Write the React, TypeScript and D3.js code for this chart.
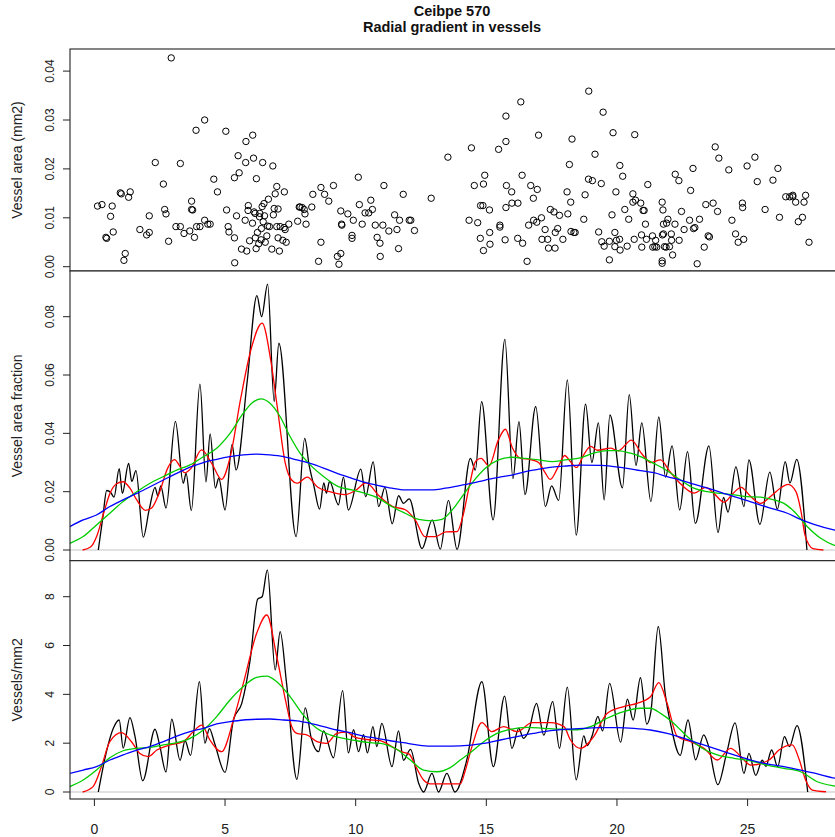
import React from "react";
import * as d3 from "d3";

const titleLines = ["Ceibpe 570", "Radial gradient in vessels"];
const yTitles = ["Vessel area (mm2)", "Vessel area fraction", "Vessels/mm2"];
const xTicks = [0, 5, 10, 15, 20, 25];
const topTicks = [0, 0.01, 0.02, 0.03, 0.04];
const midTicks = [0, 0.02, 0.04, 0.06, 0.08];
const botTicks = [0, 2, 4, 6, 8];

// Vessel areas (position, mm2)
const vesselArea: [number, number][] = [
[0.12,0.0124],[0.29,0.0127],[0.68,0.0124],[0.62,0.0103],[0.44,0.0060],[0.47,0.0058],[0.72,0.0071],[0.99,0.0151],[1.03,0.0149],[1.31,0.0142],[1.37,0.0153],[1.13,0.0013],[1.18,0.0027],[1.74,0.0076],[2.00,0.0065],[2.10,0.0070],[2.10,0.0104],[2.33,0.0213],[2.64,0.0169],[2.69,0.0117],[2.74,0.0108],[2.84,0.0052],[2.94,0.0427],[3.12,0.0082],[3.29,0.0082],[3.29,0.0211],[3.43,0.0068],[3.65,0.0073],[3.72,0.0134],[3.72,0.0117],[3.76,0.0116],[3.83,0.0060],[3.91,0.0082],[4.04,0.0082],[3.89,0.0279],[4.22,0.0300],[4.22,0.0095],[4.34,0.0087],[4.43,0.0087],[4.57,0.0179],[4.71,0.0153],[5.03,0.0277],[5.06,0.0116],[5.12,0.0082],[5.15,0.0071],[5.36,0.0059],[5.37,0.0008],[5.44,0.0104],[5.50,0.0227],[5.54,0.0192],[5.36,0.0182],[5.80,0.0256],[6.06,0.0269],[5.79,0.0213],[6.09,0.0222],[6.44,0.0213],[6.83,0.0206],[6.20,0.0180],[5.63,0.0036],[5.83,0.0032],[5.77,0.0095],[5.89,0.0125],[5.88,0.0115],[6.05,0.0089],[5.94,0.0053],[6.11,0.0112],[6.15,0.0109],[6.16,0.0059],[6.19,0.0037],[6.24,0.0070],[6.29,0.0047],[6.32,0.0102],[6.33,0.0109],[6.38,0.0055],[6.39,0.0078],[6.42,0.0123],[6.46,0.0092],[6.49,0.0129],[6.51,0.0104],[6.54,0.0050],[6.60,0.0063],[6.63,0.0083],[6.66,0.0138],[6.70,0.0082],[6.79,0.0036],[6.85,0.0106],[6.88,0.0119],[6.92,0.0149],[6.98,0.0164],[7.03,0.0118],[6.98,0.0082],[7.08,0.0032],[7.03,0.0059],[7.11,0.0082],[7.21,0.0054],[7.26,0.0080],[7.27,0.0153],[7.30,0.0076],[7.34,0.0050],[7.44,0.0087],[7.78,0.0093],[7.84,0.0122],[7.87,0.0122],[7.95,0.0121],[8.03,0.0117],[8.06,0.0108],[8.10,0.0087],[8.32,0.0122],[8.36,0.0148],[8.58,0.0011],[8.67,0.0162],[8.67,0.0050],[8.81,0.0148],[8.97,0.0134],[9.15,0.0166],[9.30,0.0021],[9.36,0.0005],[9.43,0.0027],[9.43,0.0114],[9.46,0.0087],[9.47,0.0085],[9.70,0.0108],[9.86,0.0064],[9.86,0.0058],[9.91,0.0095],[10.10,0.0183],[10.14,0.0127],[10.25,0.0087],[10.36,0.0110],[10.50,0.0110],[10.58,0.0136],[10.64,0.0117],[10.75,0.0085],[10.82,0.0060],[10.93,0.0048],[10.94,0.0021],[11.04,0.0085],[11.08,0.0166],[11.27,0.0073],[11.49,0.0106],[11.58,0.0076],[11.64,0.0037],[11.68,0.0095],[11.82,0.0148],[12.05,0.0095],[12.11,0.0095],[12.25,0.0074],
[12.89,0.0140],[13.53,0.0224],[14.34,0.0095],[14.43,0.0243],[14.67,0.0090],[14.78,0.0125],[14.87,0.0125],[14.77,0.0058],[14.89,0.0033],[15.12,0.0116],[15.13,0.0070],[15.14,0.0046],[14.54,0.0166],[14.89,0.0169],[14.94,0.0187],[15.47,0.0240],[15.75,0.0308],[15.75,0.0256],[15.52,0.0085],[15.52,0.0081],[15.72,0.0055],[15.77,0.0166],[15.75,0.0121],[15.97,0.0153],[15.98,0.0130],[16.21,0.0130],[16.20,0.0058],[16.32,0.0337],[16.37,0.0187],[16.39,0.0048],[16.56,0.0011],[16.62,0.0085],[16.70,0.0166],[16.80,0.0140],[16.81,0.0095],[16.93,0.0091],[16.95,0.0158],[17.00,0.0269],[17.11,0.0100],[17.13,0.0056],[17.25,0.0076],[17.35,0.0056],[17.38,0.0038],[17.45,0.0117],[17.59,0.0112],[17.63,0.0038],[17.64,0.0070],[17.73,0.0078],[17.80,0.0105],[17.93,0.0056],[18.09,0.0153],[18.12,0.0108],[18.18,0.0209],[18.23,0.0132],[18.24,0.0072],[18.28,0.0261],[18.35,0.0070],[18.40,0.0070],[18.73,0.0097],[18.78,0.0147],[18.91,0.0179],[18.92,0.0359],[19.06,0.0176],[19.16,0.0230],[19.30,0.0071],[19.40,0.0170],[19.42,0.0051],[19.47,0.0316],[19.51,0.0042],[19.71,0.0052],[19.71,0.0014],[19.81,0.0106],[19.85,0.0274],[19.92,0.0070],[19.92,0.0041],[19.96,0.0153],[19.98,0.0054],[20.10,0.0056],[20.11,0.0207],[20.12,0.0034],[20.22,0.0185],[20.30,0.0117],[20.39,0.0042],[20.45,0.0097],[20.61,0.0149],[20.61,0.0132],[20.66,0.0056],[20.68,0.0270],[20.71,0.0136],[20.91,0.0130],[20.94,0.0065],[20.95,0.0040],[21.00,0.0115],[21.04,0.0115],[21.09,0.0087],[21.13,0.0056],[21.18,0.0168],[21.36,0.0063],[21.37,0.0040],[21.45,0.0041],[21.48,0.0054],[21.52,0.0040],[21.73,0.0132],[21.73,0.0012],[21.73,0.0007],[21.74,0.0065],[21.76,0.0116],[21.78,0.0067],[21.78,0.0087],[21.82,0.0041],[21.88,0.0040],[21.90,0.0089],[21.95,0.0097],[22.01,0.0041],[22.08,0.0067],[22.09,0.0054],[22.13,0.0024],[22.23,0.0189],[22.22,0.0087],[22.37,0.0176],[22.38,0.0054],[22.47,0.0113],[22.57,0.0076],[22.78,0.0095],[22.82,0.0156],[22.91,0.0201],[22.93,0.0078],[22.98,0.0080],[23.07,0.0006],[23.16,0.0097],[23.34,0.0040],[23.40,0.0127],[23.49,0.0063],[23.54,0.0061],[23.68,0.0130],[23.76,0.0245],[23.85,0.0113],[23.90,0.0222],[24.28,0.0198],[24.40,0.0095],[24.54,0.0067],[24.64,0.0050],[24.80,0.0130],[24.81,0.0121],[24.85,0.0056],[24.98,0.0206],[25.28,0.0224],[25.37,0.0174],[25.67,0.0117],[25.97,0.0177],[26.16,0.0201],[26.22,0.0101],[26.46,0.0143],[26.61,0.0143],[26.73,0.0146],[26.73,0.0143],[26.84,0.0132],[26.94,0.0092],[27.10,0.0101],[27.16,0.0132],[27.22,0.0146],[27.35,0.0050]
];

// Vessel area fraction
const fracRaw: [number, number][] = [
[0.15,0],[0.32,0.011],[0.47,0.0204],[0.62,0.0198],[0.75,0.0181],[0.95,0.0279],[1.07,0.0194],[1.31,0.0297],[1.43,0.0235],[1.59,0.0272],[1.87,0.0044],[2.10,0.014],[2.32,0.0215],[2.43,0.0185],[2.54,0.022],[2.74,0.0144],[3.10,0.0441],[3.40,0.0229],[3.51,0.0263],[3.71,0.0135],[4.04,0.0569],[4.27,0.0234],[4.43,0.0398],[4.63,0.0212],[4.76,0.0246],[5.00,0.0137],[5.27,0.0362],[5.42,0.0274],[5.85,0.058],[6.22,0.0872],[6.40,0.080],[6.63,0.0912],[6.88,0.0509],[7.06,0.0709],[7.72,0.0046],[8.05,0.0383],[8.22,0.029],[8.40,0.022],[8.62,0.0140],[8.78,0.0230],[8.88,0.0195],[9.00,0.0235],[9.34,0.0155],[9.53,0.0250],[9.72,0.0137],[10.20,0.0277],[10.38,0.0183],[10.67,0.0302],[10.88,0.0149],[11.12,0.0215],[11.40,0.0090],[11.64,0.0186],[11.83,0.0160],[12.05,0.0175],[12.54,0.0005],[12.93,0.0103],[13.24,0.0003],[13.55,0.0170],[13.88,0.0002],[14.39,0.0314],[14.58,0.0274],[14.82,0.0509],[15.26,0.0103],[15.71,0.0722],[16.02,0.0245],[16.25,0.0440],[16.48,0.0190],[16.89,0.0492],[17.26,0.0149],[17.50,0.022],[17.77,0.0170],[18.10,0.0583],[18.44,0.0051],[18.80,0.0500],[19.04,0.0300],[19.29,0.0436],[19.51,0.0172],[19.73,0.0463],[20.21,0.0213],[20.47,0.0533],[20.73,0.0290],[20.95,0.0436],[21.30,0.0166],[21.60,0.0456],[21.86,0.0250],[22.11,0.0357],[22.40,0.0137],[22.70,0.0337],[23.00,0.0091],[23.52,0.0357],[23.87,0.0060],[24.08,0.018],[24.25,0.013],[24.55,0.0285],[24.86,0.0149],[25.05,0.0309],[25.47,0.0088],[25.85,0.0267],[26.14,0.0140],[26.44,0.0303],[26.62,0.0230],[26.88,0.0311],[27.27,0]
];
const fracRed: [number, number][] = [
[-0.45,0.0000],[-0.15,0.0010],[0.10,0.0050],[0.35,0.0125],[0.60,0.0195],[0.85,0.0227],[1.10,0.0234],[1.36,0.0212],[1.62,0.0172],[1.95,0.0136],[2.20,0.0145],[2.50,0.0200],[2.80,0.0280],[3.07,0.0310],[3.25,0.0290],[3.45,0.0265],[3.70,0.0280],[4.10,0.0343],[4.50,0.0295],[4.87,0.0242],[5.20,0.0320],[5.60,0.0520],[6.00,0.0690],[6.42,0.0778],[6.75,0.0650],[7.00,0.0490],[7.30,0.0300],[7.55,0.0240],[7.75,0.0229],[8.15,0.0250],[8.55,0.0215],[9.00,0.0200],[9.60,0.0190],[10.00,0.0205],[10.40,0.0230],[10.90,0.0185],[11.40,0.0150],[11.90,0.0138],[12.30,0.0100],[12.65,0.0046],[13.05,0.0046],[13.45,0.0062],[13.88,0.0063],[14.13,0.0126],[14.35,0.0220],[14.60,0.0305],[14.80,0.0314],[15.10,0.0288],[15.45,0.0375],[15.73,0.0414],[16.00,0.0350],[16.30,0.0315],[16.70,0.0310],[17.00,0.0300],[17.25,0.0265],[17.45,0.0242],[17.75,0.0285],[18.00,0.0324],[18.20,0.0305],[18.45,0.0283],[18.75,0.0330],[19.00,0.0355],[19.25,0.0342],[19.75,0.0349],[20.05,0.0340],[20.55,0.0377],[20.95,0.0330],[21.30,0.0300],[21.67,0.0309],[22.00,0.0272],[22.40,0.0230],[22.95,0.0195],[23.40,0.0215],[23.70,0.0195],[24.10,0.0164],[24.45,0.0195],[24.75,0.0215],[25.10,0.0185],[25.50,0.0160],[25.90,0.0185],[26.30,0.0215],[26.55,0.0225],[26.85,0.0200],[27.05,0.0130],[27.20,0.0050],[27.50,0.0005],[27.90,0.0000]
];
const fracGreen: [number, number][] = [
[-0.94,0.0023],[-0.43,0.0046],[0.08,0.0086],[0.59,0.0126],[1.10,0.0166],[1.62,0.0200],[2.13,0.0229],[2.64,0.0252],[3.15,0.0274],[3.66,0.0292],[4.17,0.0320],[4.68,0.0349],[5.19,0.0400],[5.70,0.0469],[6.02,0.0503],[6.38,0.0518],[6.72,0.0503],[7.11,0.0457],[7.49,0.0389],[7.87,0.0332],[8.26,0.0292],[8.77,0.0252],[9.34,0.0217],[9.85,0.0206],[10.36,0.0194],[10.88,0.0177],[11.38,0.0149],[11.89,0.0126],[12.41,0.0105],[12.92,0.0100],[13.30,0.0105],[13.69,0.0137],[14.07,0.0183],[14.45,0.0229],[14.96,0.0280],[15.47,0.0309],[15.98,0.0318],[16.50,0.0314],[17.00,0.0309],[17.52,0.0303],[18.03,0.0309],[18.60,0.0316],[19.11,0.0332],[19.62,0.0341],[20.00,0.0341],[20.52,0.0332],[20.90,0.0320],[21.41,0.0297],[21.92,0.0272],[22.43,0.0240],[22.94,0.0212],[23.46,0.0200],[23.97,0.0194],[24.48,0.0189],[24.99,0.0183],[25.50,0.0181],[26.01,0.0172],[26.39,0.0160],[26.78,0.0132],[27.29,0.0080],[27.80,0.0040],[28.30,0.0017],[28.90,0.0008]
];
const fracBlue: [number, number][] = [
[-0.94,0.0080],[-0.43,0.0103],[0.08,0.0120],[0.59,0.0149],[1.10,0.0172],[1.62,0.0194],[2.13,0.0217],[2.64,0.0240],[3.15,0.0263],[3.66,0.0284],[4.17,0.0300],[4.68,0.0311],[5.19,0.0320],[5.70,0.0326],[6.21,0.0329],[6.72,0.0326],[7.24,0.0320],[7.75,0.0309],[8.26,0.0297],[8.80,0.0280],[9.34,0.0261],[9.85,0.0246],[10.36,0.0232],[10.88,0.0221],[11.38,0.0212],[11.89,0.0206],[12.41,0.0206],[12.92,0.0206],[13.43,0.0212],[13.94,0.0220],[14.45,0.0229],[14.96,0.0240],[15.47,0.0249],[15.98,0.0257],[16.50,0.0269],[17.00,0.0277],[17.52,0.0284],[18.03,0.0288],[18.60,0.0291],[19.37,0.0290],[19.88,0.0286],[20.39,0.0280],[20.90,0.0272],[21.41,0.0265],[21.92,0.0252],[22.43,0.0240],[22.94,0.0226],[23.46,0.0212],[23.97,0.0198],[24.48,0.0183],[24.99,0.0169],[25.50,0.0154],[26.01,0.0140],[26.52,0.0126],[27.03,0.0105],[27.54,0.0088],[28.30,0.0069],[28.90,0.0058]
];

// Vessels per mm2
const densRaw: [number, number][] = [
[0.15,0.0],[0.45,1.6],[0.72,2.6],[0.95,2.95],[1.10,1.8],[1.36,3.05],[1.55,2.3],[1.85,0.46],[2.32,2.57],[2.50,1.9],[2.74,0.82],[2.96,2.98],[3.28,1.3],[3.47,2.1],[3.68,1.5],[4.02,4.52],[4.23,2.0],[4.40,2.6],[4.60,2.0],[5.00,0.8],[5.32,2.95],[5.64,3.63],[5.96,5.4],[6.25,7.9],[6.42,8.0],[6.62,9.1],[6.92,5.0],[7.11,6.57],[7.35,4.5],[7.75,0.52],[8.07,3.45],[8.30,2.2],[8.58,1.65],[8.77,2.5],[9.15,1.4],[9.50,4.15],[9.72,1.6],[9.92,2.55],[10.11,1.65],[10.30,2.35],[10.45,1.6],[10.66,2.68],[10.81,1.86],[11.00,2.81],[11.39,1.04],[11.64,2.5],[11.83,1.3],[12.10,1.75],[12.41,0.36],[12.60,0.0],[12.92,0.76],[13.17,0.0],[13.49,0.76],[13.80,0.0],[14.25,1.3],[14.83,4.52],[15.27,1.04],[15.70,3.93],[15.98,1.79],[16.24,2.61],[16.42,2.2],[16.62,2.5],[16.92,3.63],[17.20,2.33],[17.54,3.70],[17.80,1.79],[18.10,4.3],[18.44,0.5],[18.73,2.3],[18.86,1.9],[19.05,2.3],[19.27,3.1],[19.45,2.5],[19.72,4.45],[20.14,2.04],[20.40,3.8],[20.62,2.95],[20.90,4.68],[21.14,2.78],[21.30,3.3],[21.58,6.78],[21.85,4.0],[22.05,2.8],[22.42,1.5],[22.72,2.95],[23.01,1.32],[23.32,2.34],[23.50,1.9],[23.86,0.3],[24.20,1.6],[24.52,2.83],[24.86,0.76],[25.05,1.58],[25.31,0.68],[25.56,1.3],[25.70,1.05],[25.92,1.72],[26.15,1.04],[26.41,2.27],[26.60,1.86],[26.89,2.72],[27.30,0.0]
];
const densRed: [number, number][] = [
[-0.45,0.00],[-0.05,0.22],[0.27,1.04],[0.59,2.06],[1.04,2.43],[1.42,2.06],[1.74,1.58],[2.06,1.45],[2.39,1.72],[2.89,1.93],[3.40,2.06],[3.78,2.47],[4.11,2.74],[4.42,2.13],[4.87,1.65],[5.32,2.95],[5.70,4.45],[6.21,6.5],[6.60,7.25],[6.98,5.54],[7.34,3.63],[7.55,2.68],[7.75,2.40],[8.13,2.34],[8.52,2.06],[8.88,1.99],[9.28,2.40],[9.66,2.45],[9.92,2.27],[10.43,2.15],[10.94,2.10],[11.38,1.86],[11.75,1.65],[12.05,1.55],[12.30,1.04],[12.60,0.49],[12.85,0.33],[13.37,0.33],[13.75,0.33],[14.00,0.33],[14.20,0.9],[14.45,1.86],[14.83,2.84],[15.21,2.47],[15.66,2.68],[16.17,2.47],[16.75,2.84],[17.46,2.84],[17.97,2.68],[18.22,2.13],[18.60,1.79],[19.11,2.27],[19.62,3.22],[20.26,3.50],[20.77,3.63],[21.28,3.90],[21.60,4.48],[21.92,3.63],[22.31,2.27],[22.82,2.06],[23.33,1.79],[23.84,1.31],[24.35,1.79],[24.70,1.50],[25.12,1.10],[25.82,1.31],[26.20,1.72],[26.71,1.93],[26.98,1.31],[27.22,0.49],[27.48,0.08],[28.00,0.01]
];
const densGreen: [number, number][] = [
[-0.94,0.22],[-0.43,0.49],[0.08,0.90],[0.59,1.40],[1.10,1.69],[1.62,1.79],[2.13,1.83],[2.64,1.93],[3.15,2.02],[3.66,2.20],[4.17,2.54],[4.68,3.09],[5.19,3.77],[5.70,4.32],[6.21,4.70],[6.60,4.75],[6.98,4.52],[7.49,3.91],[8.00,3.15],[8.51,2.61],[9.02,2.34],[9.53,2.20],[10.04,2.10],[10.55,2.02],[11.06,1.97],[11.57,1.75],[12.09,1.31],[12.60,0.90],[13.11,0.83],[13.62,1.00],[14.00,1.31],[14.40,1.62],[14.90,2.06],[15.41,2.40],[15.92,2.57],[16.56,2.65],[17.20,2.61],[17.84,2.57],[18.48,2.55],[18.99,2.68],[19.62,3.02],[20.26,3.29],[20.90,3.43],[21.28,3.43],[21.67,3.22],[22.18,2.81],[22.69,2.27],[23.20,1.83],[23.84,1.52],[24.48,1.38],[25.12,1.28],[25.75,1.10],[26.39,0.97],[27.03,0.83],[27.67,0.42],[28.31,0.25],[28.90,0.18]
];
const densBlue: [number, number][] = [
[-0.94,0.76],[-0.43,0.90],[0.08,1.04],[0.59,1.31],[1.10,1.52],[1.62,1.72],[2.13,1.86],[2.64,2.06],[3.15,2.29],[3.66,2.47],[4.17,2.61],[4.68,2.79],[5.19,2.88],[5.70,2.95],[6.21,2.98],[6.72,2.99],[7.24,2.95],[7.75,2.91],[8.26,2.81],[8.77,2.68],[9.28,2.54],[9.79,2.43],[10.30,2.29],[10.81,2.20],[11.32,2.10],[11.83,2.02],[12.34,1.93],[12.85,1.88],[13.37,1.88],[14.00,1.89],[14.90,1.99],[15.54,2.13],[16.17,2.27],[16.81,2.40],[17.45,2.51],[18.09,2.57],[18.73,2.61],[19.37,2.64],[20.00,2.64],[20.65,2.61],[21.28,2.54],[21.92,2.40],[22.56,2.20],[23.20,1.97],[23.84,1.75],[24.48,1.52],[25.12,1.31],[25.75,1.15],[26.39,1.04],[27.03,0.90],[27.67,0.74],[28.37,0.56],[28.90,0.48]
];

const FONT = "'Liberation Sans', Arial, Helvetica, sans-serif";
const LEFT = 70;
const RIGHT = 850;

const x = d3.scaleLinear().domain([0, 25]).range([94.4, 747.6]);

type Panel = {
  id: string;
  top: number;
  bottom: number;
  y: d3.ScaleLinear<number, number>;
  ticks: number[];
  fmt: (v: number) => string;
  title: string;
};

const panels: Panel[] = [
  { id: "p1", top: 49, bottom: 271, y: d3.scaleLinear().domain([0, 0.04]).range([266.7, 71.1]), ticks: topTicks, fmt: d3.format(".2f"), title: yTitles[0] },
  { id: "p2", top: 271, bottom: 560.7, y: d3.scaleLinear().domain([0, 0.08]).range([550, 316.7]), ticks: midTicks, fmt: d3.format(".2f"), title: yTitles[1] },
  { id: "p3", top: 560.7, bottom: 799, y: d3.scaleLinear().domain([0, 8]).range([792, 596.7]), ticks: botTicks, fmt: d3.format("d"), title: yTitles[2] },
];

const RED = "#ff0000";
const GREEN = "#00cd00";
const BLUE = "#0000ff";

function linePath(p: Panel, data: [number, number][]) {
  return d3.line<[number, number]>()
    .x((d) => x(d[0]))
    .y((d) => p.y(d[1]))
    .curve(d3.curveMonotoneX)(data) || "";
}

function Frame({ p }: { p: Panel }) {
  const cy = (p.top + p.bottom) / 2;
  return (
    <g>
      <rect x={LEFT} y={p.top} width={RIGHT - LEFT} height={p.bottom - p.top} fill="none" stroke="#222" strokeWidth={1.1} />
      {p.ticks.map((t) => (
        <g key={t}>
          <line x1={LEFT - 7} x2={LEFT} y1={p.y(t)} y2={p.y(t)} stroke="#222" strokeWidth={1} />
          <text transform={`translate(54,${p.y(t)}) rotate(-90)`} textAnchor="middle" fontSize={12} fill="#222" fontFamily={FONT}>
            {p.fmt(t)}
          </text>
        </g>
      ))}
      <text transform={`translate(21.5,${cy}) rotate(-90)`} textAnchor="middle" fontSize={14} fill="#222" fontFamily={FONT}>
        {p.title}
      </text>
    </g>
  );
}

function LinePanel({ p, raw, red, green, blue }: { p: Panel; raw: [number, number][]; red: [number, number][]; green: [number, number][]; blue: [number, number][] }) {
  return (
    <g>
      <rect x={LEFT} y={p.top} width={RIGHT - LEFT} height={p.bottom - p.top} fill="#fff" />
      <g clipPath={`url(#clip-${p.id})`}>
        <line x1={LEFT} x2={RIGHT} y1={p.y(0)} y2={p.y(0)} stroke="#c4c4c4" strokeWidth={1.2} />
        <path d={linePath(p, raw)} fill="none" stroke="#000" strokeWidth={1.3} />
        <path d={linePath(p, red)} fill="none" stroke={RED} strokeWidth={1.3} />
        <path d={linePath(p, green)} fill="none" stroke={GREEN} strokeWidth={1.3} />
        <path d={linePath(p, blue)} fill="none" stroke={BLUE} strokeWidth={1.3} />
      </g>
      <Frame p={p} />
    </g>
  );
}

export default function App() {
  const [p1, p2, p3] = panels;
  return (
    <svg width={835} height={837} style={{ position: "absolute", left: 0, top: 0, background: "#fff" }}>
      <defs>
        {panels.map((p) => (
          <clipPath id={`clip-${p.id}`} key={p.id}>
            <rect x={LEFT} y={p.top} width={RIGHT - LEFT} height={p.bottom - p.top} />
          </clipPath>
        ))}
      </defs>
      <rect x={0} y={0} width={835} height={837} fill="#fff" />
      <text x={452} y={16} textAnchor="middle" fontSize={14.5} fontWeight="bold" fill="#111" fontFamily={FONT}>{titleLines[0]}</text>
      <text x={452} y={32} textAnchor="middle" fontSize={14.5} fontWeight="bold" fill="#111" fontFamily={FONT}>{titleLines[1]}</text>

      <g>
        <g clipPath={`url(#clip-${p1.id})`}>
          {vesselArea.map((d, i) => (
            <circle key={i} cx={x(d[0])} cy={p1.y(d[1])} r={3.2} fill="none" stroke="#000" strokeWidth={1} />
          ))}
        </g>
        <Frame p={p1} />
      </g>

      <LinePanel p={p2} raw={fracRaw} red={fracRed} green={fracGreen} blue={fracBlue} />
      <LinePanel p={p3} raw={densRaw} red={densRed} green={densGreen} blue={densBlue} />

      <g>
        {xTicks.map((t) => (
          <g key={t}>
            <line x1={x(t)} x2={x(t)} y1={799} y2={806} stroke="#222" strokeWidth={1} />
            <text x={x(t)} y={834} textAnchor="middle" fontSize={14} fill="#222" fontFamily={FONT}>{t}</text>
          </g>
        ))}
      </g>
    </svg>
  );
}
